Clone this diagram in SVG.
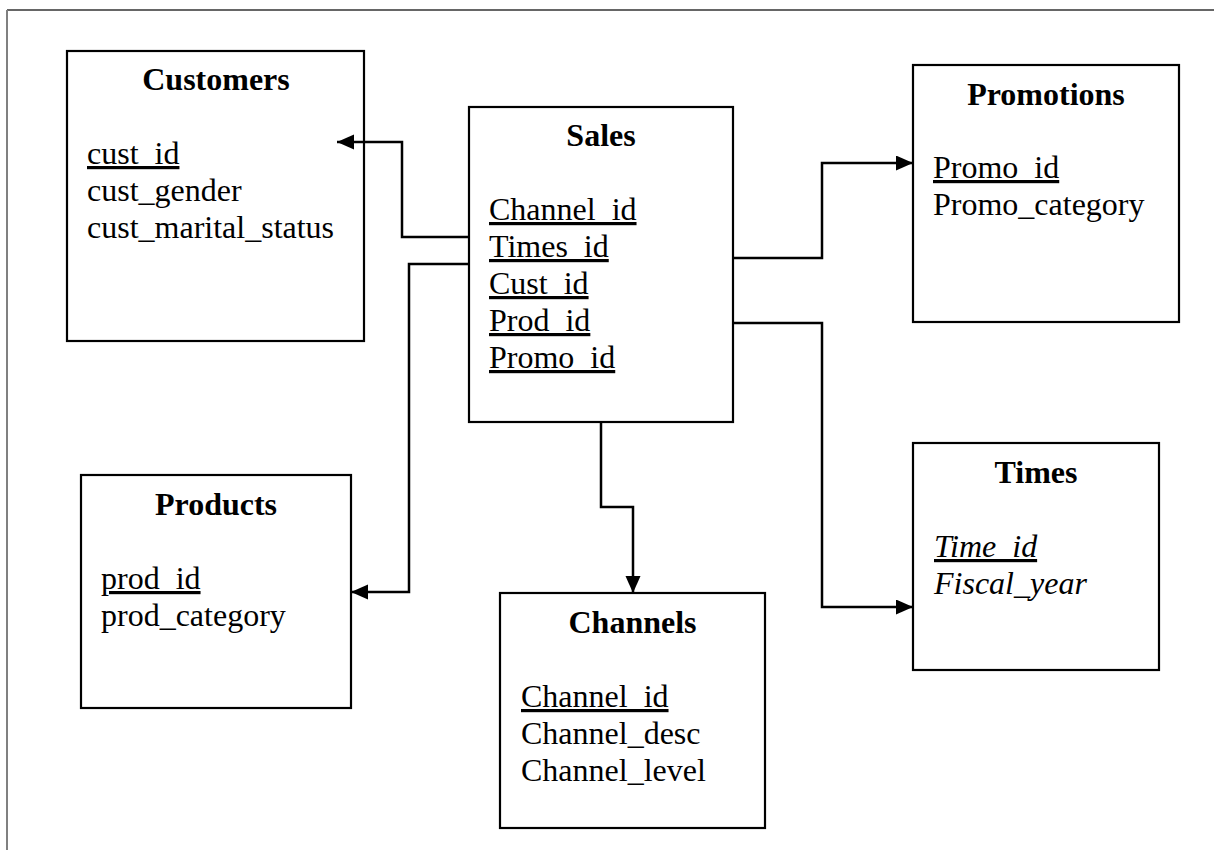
<svg xmlns="http://www.w3.org/2000/svg" width="1214" height="850" viewBox="0 0 1214 850">
  <style>
    .box { fill: #ffffff; stroke: #000000; stroke-width: 2.2; }
    .title { font-family: "Liberation Serif", "Times New Roman", serif; font-size: 32px; font-weight: bold; fill: #000000; text-anchor: middle; }
    .field { font-family: "Liberation Serif", "Times New Roman", serif; font-size: 32px; fill: #000000; }
    .key { text-decoration: underline; }
    .ital { font-style: italic; }
    .link { fill: none; stroke: #000000; stroke-width: 2.5; marker-end: url(#arrow); }
  </style>
  <defs>
    <marker id="arrow" markerUnits="userSpaceOnUse" markerWidth="18" markerHeight="16" refX="17" refY="7.5" orient="auto">
      <path d="M0,0 L17,7.5 L0,15 Z" fill="#000000"/>
    </marker>
  </defs>

  <rect width="1214" height="850" fill="#ffffff"/>

  <!-- page frame -->
  <g id="frame">
    <line x1="7" y1="10" x2="1214" y2="10" stroke="#333333" stroke-width="1.3"/>
    <line x1="7" y1="10" x2="7" y2="850" stroke="#808080" stroke-width="2"/>
  </g>

  <g id="customers">
    <rect class="box" x="67" y="51" width="297" height="290"/>
    <text class="title" x="216" y="90">Customers</text>
    <text class="field key" x="87" y="164">cust_id</text>
    <text class="field" x="87" y="201">cust_gender</text>
    <text class="field" x="87" y="238">cust_marital_status</text>
  </g>

  <g id="sales">
    <rect class="box" x="469" y="107" width="264" height="315"/>
    <text class="title" x="601" y="146">Sales</text>
    <text class="field key" x="489" y="220">Channel_id</text>
    <text class="field key" x="489" y="257">Times_id</text>
    <text class="field key" x="489" y="294">Cust_id</text>
    <text class="field key" x="489" y="331">Prod_id</text>
    <text class="field key" x="489" y="368">Promo_id</text>
  </g>

  <g id="promotions">
    <rect class="box" x="913" y="65" width="266" height="257"/>
    <text class="title" x="1046" y="105">Promotions</text>
    <text class="field key" x="933" y="178">Promo_id</text>
    <text class="field" x="933" y="215">Promo_category</text>
  </g>

  <g id="times">
    <rect class="box" x="913" y="443" width="246" height="227"/>
    <text class="title" x="1036" y="483">Times</text>
    <text class="field ital key" x="934" y="557">Time_id</text>
    <text class="field ital" x="934" y="594">Fiscal_year</text>
  </g>

  <g id="products">
    <rect class="box" x="81" y="475" width="270" height="233"/>
    <text class="title" x="216" y="515">Products</text>
    <text class="field key" x="101" y="589">prod_id</text>
    <text class="field" x="101" y="626">prod_category</text>
  </g>

  <g id="channels">
    <rect class="box" x="500" y="593" width="265" height="235"/>
    <text class="title" x="632.5" y="633">Channels</text>
    <text class="field key" x="521" y="707">Channel_id</text>
    <text class="field" x="521" y="744">Channel_desc</text>
    <text class="field" x="521" y="781">Channel_level</text>
  </g>

  <!-- foreign-key links from the fact table -->
  <g id="connectors">
    <path class="link" d="M469,237 H402 V142 H337"/>
    <path class="link" d="M469,264 H409 V592 H351"/>
    <path class="link" d="M601,422 V507 H633 V593"/>
    <path class="link" d="M733,258 H822 V163 H913"/>
    <path class="link" d="M733,323 H822 V607 H913"/>
  </g>
</svg>
